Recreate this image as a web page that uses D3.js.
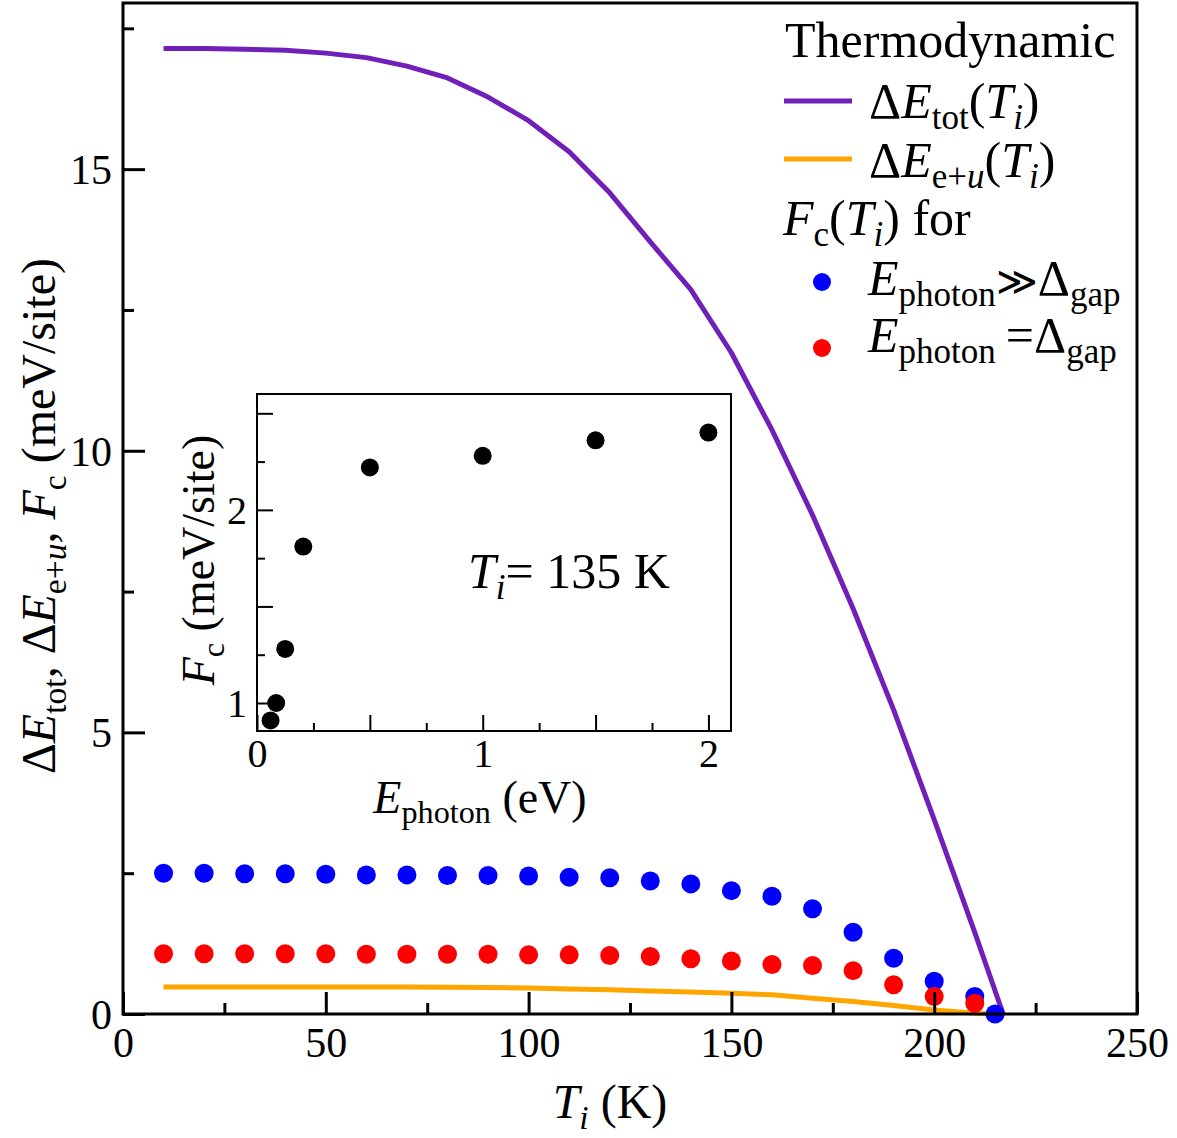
<!DOCTYPE html>
<html>
<head>
<meta charset="utf-8">
<script src="https://cdn.jsdelivr.net/npm/d3@7"></script>
<style>
  html, body { margin: 0; padding: 0; background: #fff; }
  svg { display: block; }
  text { font-family: "Liberation Serif", "Times New Roman", serif; fill: #000; }
</style>
</head>
<body>
<svg id="chart" width="1177" height="1138"></svg>
<script>
// ---- data ----------------------------------------------------------------
// Thermodynamic energy difference (meV/site) versus initial temperature (K)
const totT = [10, 20, 30, 40, 50, 60, 70, 80, 90, 100, 110, 120, 130, 140, 150, 160, 170, 180, 190, 200, 210, 217];
const totE = [17.14, 17.14, 17.13, 17.11, 17.06, 16.98, 16.83, 16.62, 16.28, 15.86, 15.31, 14.58, 13.71, 12.86, 11.74, 10.37, 8.86, 7.2, 5.4, 3.45, 1.45, 0];

// Electronic + lattice part of the energy difference
const euT = [10, 20, 30, 40, 50, 60, 70, 80, 90, 100, 110, 120, 130, 140, 150, 160, 170, 180, 190, 200, 210, 214];
const euE = [0.48, 0.48, 0.48, 0.48, 0.48, 0.48, 0.48, 0.475, 0.47, 0.46, 0.445, 0.43, 0.41, 0.39, 0.37, 0.34, 0.28, 0.22, 0.15, 0.07, 0.015, 0];

// Critical fluence, photon energy far above the gap
const fcHighT = [10, 20, 30, 40, 50, 60, 70, 80, 90, 100, 110, 120, 130, 140, 150, 160, 170, 180, 190, 200, 210, 215];
const fcHigh = [2.50, 2.50, 2.49, 2.49, 2.48, 2.47, 2.47, 2.46, 2.46, 2.45, 2.43, 2.42, 2.36, 2.31, 2.19, 2.09, 1.87, 1.45, 0.99, 0.58, 0.31, 0];

// Critical fluence, photon energy equal to the gap
const fcGapT = [10, 20, 30, 40, 50, 60, 70, 80, 90, 100, 110, 120, 130, 140, 150, 160, 170, 180, 190, 200, 210];
const fcGap = [1.07, 1.07, 1.07, 1.07, 1.07, 1.06, 1.06, 1.06, 1.06, 1.05, 1.05, 1.04, 1.02, 0.98, 0.94, 0.88, 0.86, 0.77, 0.52, 0.31, 0.19];

// Inset: critical fluence versus photon energy at T_i = 135 K
const photonE = [0.06, 0.085, 0.125, 0.205, 0.5, 1.0, 1.5, 2.0];
const fcPhoton = [0.91, 1.0, 1.28, 1.81, 2.22, 2.28, 2.36, 2.40];

// Tick values
const xMajor = [0, 50, 100, 150, 200, 250];
const xMinor = [25, 75, 125, 175, 225];
const yMajor = [0, 5, 10, 15];
const yMinor = [2.5, 7.5, 12.5, 17.5];
const ixMajor = [0, 0.5, 1, 1.5, 2];
const ixMinor = [0.25, 0.75, 1.25, 1.75];
const ixLabels = [0, 1, 2];
const iyMajor = [1, 1.5, 2, 2.5];
const iyMinor = [1.25, 1.75, 2.25];
const iyLabels = [1, 2];

const PURPLE = "#7020b8";
const ORANGE = "#ffa500";
const BLUE = "#0000ff";
const RED = "#ff0000";

// ---- helpers ---------------------------------------------------------------
// Writes a run of text pieces; each piece may be italic (i), a subscript (s)
// or drawn at a relative size (k).
function rich(parent, x, y, parts, fs, opts = {}) {
  const t = parent.append("text")
    .attr("x", x).attr("y", y)
    .attr("font-size", fs)
    .attr("text-anchor", opts.anchor || "start");
  if (opts.transform) t.attr("transform", opts.transform);
  let cur = 0;
  parts.forEach(p => {
    const off = p.s ? fs * 0.22 : 0;
    const size = p.s ? fs * 0.7 : fs * (p.k || 1);
    const ts = t.append("tspan")
      .attr("dy", off - cur)
      .attr("font-size", size)
      .text(p.t);
    if (p.i) ts.attr("font-style", "italic");
    cur = off;
  });
  return t;
}

const svg = d3.select("#chart");

// ---- main panel -----------------------------------------------------------
const x = d3.scaleLinear([0, 250], [123, 1137]);
const y = d3.scaleLinear([0, 17.95], [1014, 3]);

const line = d3.line().x(d => x(d[0])).y(d => y(d[1]));

svg.append("path")
  .datum(d3.zip(totT, totE))
  .attr("d", line)
  .attr("fill", "none").attr("stroke", PURPLE).attr("stroke-width", 5)
  .attr("stroke-linejoin", "round");

svg.append("path")
  .datum(d3.zip(euT, euE))
  .attr("d", line)
  .attr("fill", "none").attr("stroke", ORANGE).attr("stroke-width", 5)
  .attr("stroke-linejoin", "round");

svg.append("g").selectAll("circle")
  .data(d3.zip(fcHighT, fcHigh)).join("circle")
  .attr("cx", d => x(d[0])).attr("cy", d => y(d[1])).attr("r", 9.5)
  .attr("fill", BLUE);

svg.append("g").selectAll("circle")
  .data(d3.zip(fcGapT, fcGap)).join("circle")
  .attr("cx", d => x(d[0])).attr("cy", d => y(d[1])).attr("r", 9.5)
  .attr("fill", RED);

// ticks point inward
function styleAxis(g, width) {
  g.select(".domain").remove();
  g.selectAll(".tick line").attr("stroke", "#000").attr("stroke-width", width);
  g.selectAll(".tick text").attr("font-family", "Liberation Serif").attr("fill", "#000");
}

const gx = svg.append("g").attr("transform", `translate(0,${y(0)})`)
  .call(d3.axisBottom(x).tickValues(xMajor).tickSize(-22).tickPadding(13).tickFormat(d3.format("d")));
styleAxis(gx, 3);
gx.selectAll(".tick text").attr("font-size", 42);

const gxm = svg.append("g").attr("transform", `translate(0,${y(0)})`)
  .call(d3.axisBottom(x).tickValues(xMinor).tickSize(-11).tickFormat(""));
styleAxis(gxm, 3);

const gy = svg.append("g").attr("transform", `translate(${x(0)},0)`)
  .call(d3.axisLeft(y).tickValues(yMajor).tickSize(-22).tickPadding(11).tickFormat(d3.format("d")));
styleAxis(gy, 3);
gy.selectAll(".tick text").attr("font-size", 42).attr("dy", "0.34em");

const gym = svg.append("g").attr("transform", `translate(${x(0)},0)`)
  .call(d3.axisLeft(y).tickValues(yMinor).tickSize(-11).tickFormat(""));
styleAxis(gym, 3);

svg.append("rect")
  .attr("x", x(0)).attr("y", y(17.95))
  .attr("width", x(250) - x(0)).attr("height", y(0) - y(17.95))
  .attr("fill", "none").attr("stroke", "#000").attr("stroke-width", 3);

// axis titles
rich(svg, 610, 1118, [{ t: "T", i: true }, { t: "i", i: true, s: true }, { t: " (K)" }], 48, { anchor: "middle" });

rich(svg, 0, 0, [
  { t: "Δ" }, { t: "E", i: true }, { t: "tot", s: true }, { t: ", Δ" }, { t: "E", i: true },
  { t: "e+", s: true }, { t: "u", s: true, i: true }, { t: ", " }, { t: "F", i: true }, { t: "c", s: true },
  { t: " (meV/site)" }
], 48, { anchor: "middle", transform: "translate(55,516) rotate(-90)" });

// ---- legend -----------------------------------------------------------------
const leg = svg.append("g");
rich(leg, 785, 57, [{ t: "Thermodynamic" }], 50);

leg.append("line").attr("x1", 784).attr("x2", 852).attr("y1", 101).attr("y2", 101)
  .attr("stroke", PURPLE).attr("stroke-width", 5);
rich(leg, 869, 118, [{ t: "Δ" }, { t: "E", i: true }, { t: "tot", s: true }, { t: "(" },
  { t: "T", i: true }, { t: "i", i: true, s: true }, { t: ")" }], 50);

leg.append("line").attr("x1", 784).attr("x2", 852).attr("y1", 159).attr("y2", 159)
  .attr("stroke", ORANGE).attr("stroke-width", 5);
rich(leg, 869, 177, [{ t: "Δ" }, { t: "E", i: true }, { t: "e+", s: true }, { t: "u", s: true, i: true },
  { t: "(" }, { t: "T", i: true }, { t: "i", i: true, s: true }, { t: ")" }], 50);

rich(leg, 783, 235, [{ t: "F", i: true }, { t: "c", s: true }, { t: "(" }, { t: "T", i: true },
  { t: "i", i: true, s: true }, { t: ") for" }], 50);

leg.append("circle").attr("cx", 822).attr("cy", 282).attr("r", 9).attr("fill", BLUE);
rich(leg, 868, 295, [{ t: "E", i: true }, { t: "photon", s: true }, { t: "≫", k: 0.8 }, { t: "Δ" }, { t: "gap", s: true }], 50);

leg.append("circle").attr("cx", 822).attr("cy", 348).attr("r", 9).attr("fill", RED);
rich(leg, 868, 352, [{ t: "E", i: true }, { t: "photon", s: true }, { t: "\u2009=Δ" }, { t: "gap", s: true }], 50);

// ---- inset ------------------------------------------------------------------
const xi = d3.scaleLinear([0, 2.1], [257, 731]);
const yi = d3.scaleLinear([0.855, 2.6], [731, 394]);
const inset = svg.append("g");

inset.append("rect")
  .attr("x", xi(0)).attr("y", yi(2.6))
  .attr("width", xi(2.1) - xi(0)).attr("height", yi(0.855) - yi(2.6))
  .attr("fill", "#fff");

inset.append("g").selectAll("circle")
  .data(d3.zip(photonE, fcPhoton)).join("circle")
  .attr("cx", d => xi(d[0])).attr("cy", d => yi(d[1])).attr("r", 9)
  .attr("fill", "#000");

const ixa = inset.append("g").attr("transform", `translate(0,${yi(0.855)})`)
  .call(d3.axisBottom(xi).tickValues(ixMajor).tickSize(-16).tickPadding(8)
    .tickFormat(d => ixLabels.includes(d) ? d3.format("d")(d) : ""));
styleAxis(ixa, 2);
ixa.selectAll(".tick text").attr("font-size", 40);

const ixm = inset.append("g").attr("transform", `translate(0,${yi(0.855)})`)
  .call(d3.axisBottom(xi).tickValues(ixMinor).tickSize(-8).tickFormat(""));
styleAxis(ixm, 2);

const iya = inset.append("g").attr("transform", `translate(${xi(0)},0)`)
  .call(d3.axisLeft(yi).tickValues(iyMajor).tickSize(-16).tickPadding(10)
    .tickFormat(d => iyLabels.includes(d) ? d3.format("d")(d) : ""));
styleAxis(iya, 2);
iya.selectAll(".tick text").attr("font-size", 40).attr("dy", "0.34em");

const iym = inset.append("g").attr("transform", `translate(${xi(0)},0)`)
  .call(d3.axisLeft(yi).tickValues(iyMinor).tickSize(-8).tickFormat(""));
styleAxis(iym, 2);

inset.append("rect")
  .attr("x", xi(0)).attr("y", yi(2.6))
  .attr("width", xi(2.1) - xi(0)).attr("height", yi(0.855) - yi(2.6))
  .attr("fill", "none").attr("stroke", "#000").attr("stroke-width", 2);

rich(inset, 480, 813, [{ t: "E", i: true }, { t: "photon", s: true }, { t: " (eV)" }], 46, { anchor: "middle" });
rich(inset, 0, 0, [{ t: "F", i: true }, { t: "c", s: true }, { t: "  (meV/site)" }], 46,
  { anchor: "middle", transform: "translate(214,560) rotate(-90)" });
rich(inset, 468, 588, [{ t: "T", i: true }, { t: "i", i: true, s: true }, { t: "= 135 K" }], 50);
</script>
</body>
</html>
